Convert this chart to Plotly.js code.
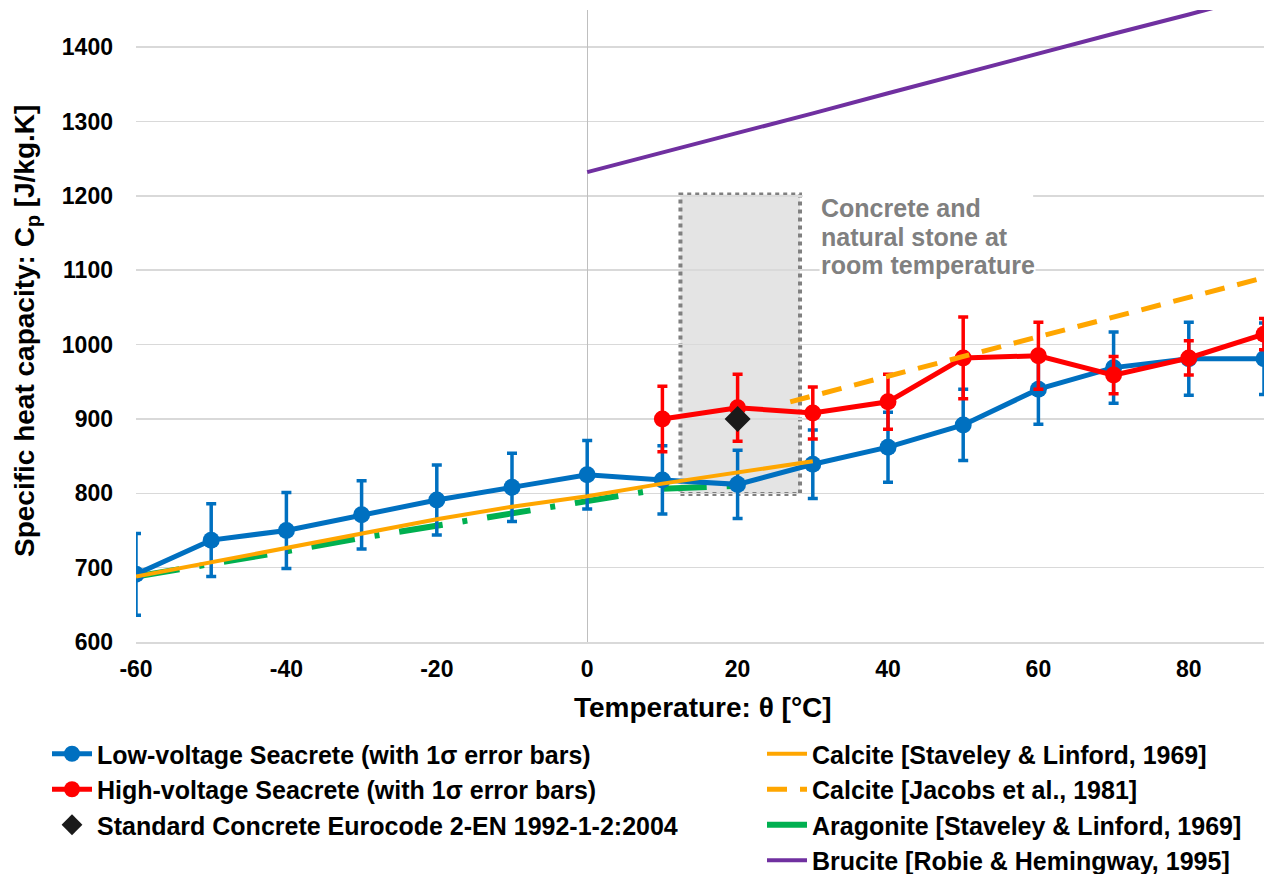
<!DOCTYPE html>
<html>
<head>
<meta charset="utf-8">
<script src="https://cdn.plot.ly/plotly-3.0.1.min.js"></script>
<style>html,body{margin:0;padding:0;background:#fff;}#chart{width:1274px;height:874px;}</style>
</head>
<body>
<div id="chart"></div>
<script>
// ---- data ----
const tempLow = [-60, -50, -40, -30, -20, -10, 0, 10, 20, 30, 40, 50, 60, 70, 80, 90];
const cpLow = [691, 737, 750, 771, 791, 808, 825, 818, 812, 839, 862, 892, 940, 969, 981, 981];
const errLow = [55, 49, 51, 46, 47, 46, 46, 46, 46, 46, 47, 48, 47, 48, 49, 48];

const tempHigh = [10, 20, 30, 40, 50, 60, 70, 80, 90];
const cpHigh = [900, 915, 908, 923, 982, 985, 959, 982, 1014];
const errHigh = [44, 45, 35, 37, 55, 45, 25, 23, 21];

const tempEuro = [20];
const cpEuro = [900];

const tempCalciteSL = [-60, -50, -40, -30, -20, -10, 0, 10, 20, 30];
const cpCalciteSL = [688, 707, 726, 745, 765, 782, 796, 813, 828, 843];

const tempCalciteJ = [27, 30, 40, 50, 60, 70, 80, 90];
const cpCalciteJ = [923, 931, 957, 984, 1011, 1037, 1064, 1090];

const tempAragonite = [-60, -50, -40, -30, -20, -10, 0, 10, 20];
const cpAragonite = [688, 704, 722, 740, 756, 773, 789, 806, 810];

const tempBrucite = [0, 10, 20, 30, 40, 50, 60, 70, 80, 90];
const cpBrucite = [1232, 1258, 1285, 1311, 1338, 1365, 1391, 1418, 1444, 1471];

const xTicks = [-60, -40, -20, 0, 20, 40, 60, 80];
const yTicks = [600, 700, 800, 900, 1000, 1100, 1200, 1300, 1400];

const names = {
  low: 'Low-voltage Seacrete (with 1σ error bars)',
  high: 'High-voltage Seacrete (with 1σ error bars)',
  euro: 'Standard Concrete Eurocode 2-EN 1992-1-2:2004',
  calSL: 'Calcite [Staveley & Linford, 1969]',
  calJ: 'Calcite [Jacobs et al., 1981]',
  arag: 'Aragonite [Staveley & Linford, 1969]',
  bruc: 'Brucite [Robie & Hemingway, 1995]'
};
const boxLines = ['Concrete and', 'natural stone at', 'room temperature'];
const xTitle = 'Temperature: θ [°C]';
const yTitle = 'Specific heat capacity: C<sub>p</sub> [J/kg.K]';

const BLUE = '#0070c0', RED = '#ff0000', ORANGE = '#ffa600', GREEN = '#00b050', PURPLE = '#7030a0';

const traces = [
  {x: tempBrucite, y: cpBrucite, mode: 'lines', name: names.bruc, legend: 'legend2', legendrank: 4,
   line: {color: PURPLE, width: 4}},
  {x: tempAragonite, y: cpAragonite, mode: 'lines', name: names.arag, legend: 'legend2', legendrank: 3,
   line: {color: GREEN, width: 6, dash: '44px,20px,5px,20px'}},
  {x: tempLow, y: cpLow, mode: 'lines+markers', name: names.low, legend: 'legend', legendrank: 1,
   line: {color: BLUE, width: 5}, marker: {color: BLUE, size: 17},
   error_y: {type: 'data', array: errLow, visible: true, color: BLUE, thickness: 3.5, width: 5}},
  {x: tempHigh, y: cpHigh, mode: 'lines+markers', name: names.high, legend: 'legend', legendrank: 2,
   line: {color: RED, width: 5}, marker: {color: RED, size: 17},
   error_y: {type: 'data', array: errHigh, visible: true, color: RED, thickness: 3.5, width: 5}},
  {x: tempCalciteSL, y: cpCalciteSL, mode: 'lines', name: names.calSL, legend: 'legend2', legendrank: 1,
   line: {color: ORANGE, width: 4}},
  {x: tempCalciteJ, y: cpCalciteJ, mode: 'lines', name: names.calJ, legend: 'legend2', legendrank: 2,
   line: {color: ORANGE, width: 5, dash: '20px,13px'}},
  {x: tempEuro, y: cpEuro, mode: 'markers', name: names.euro, legend: 'legend', legendrank: 3,
   marker: {color: '#1a1a1a', size: 20, symbol: 'diamond'}}
];

const FONT = 'Liberation Sans, Arial, sans-serif';
const PL = 136, PR = 1264, PT = 10, PB = 642; // plot area in px (layout margins)
const px2paperX = p => (p - PL) / (PR - PL);
const px2paperY = p => (PB - p) / (PB - PT);

const boxY = [1184, 1145, 1107];
const annotations = boxLines.map((t, i) => ({
  xref: 'x', yref: 'y', x: 30.9, y: boxY[i], xanchor: 'left', yanchor: 'middle', align: 'left',
  text: t, showarrow: false, bgcolor: '#ffffff', borderpad: 0,
  font: {family: FONT, size: 25, weight: 'bold', color: '#808080'}
}));
annotations.push({
  xref: 'paper', yref: 'paper', x: px2paperX(703), y: px2paperY(707), xanchor: 'center', yanchor: 'middle',
  text: xTitle, showarrow: false, font: {family: FONT, size: 28, weight: 'bold', color: '#000'}
});
annotations.push({
  xref: 'paper', yref: 'paper', x: px2paperX(26), y: px2paperY(331), xanchor: 'center', yanchor: 'middle',
  text: yTitle, textangle: -90, showarrow: false, font: {family: FONT, size: 28, weight: 'bold', color: '#000'}
});

const layout = {
  width: 1274, height: 874,
  paper_bgcolor: '#ffffff', plot_bgcolor: '#ffffff',
  margin: {l: PL, r: 1274 - PR, t: PT, b: 874 - PB, autoexpand: false},
  font: {family: FONT, color: '#000000', size: 23, weight: 'bold'},
  xaxis: {
    range: [-60, 90], tickvals: xTicks, ticktext: xTicks.map(String),
    showgrid: false, zeroline: true, zerolinecolor: '#bfbfbf', zerolinewidth: 1,
    showline: true, linecolor: '#d9d9d9', linewidth: 1.5, ticks: '',
    tickfont: {family: FONT, size: 23, weight: 'bold', color: '#000'},
    ticklabelstandoff: 6, automargin: false, fixedrange: true
  },
  yaxis: {
    range: [600, 1450], tickvals: yTicks, ticktext: yTicks.map(String),
    showgrid: true, gridcolor: '#d9d9d9', gridwidth: 1.5, zeroline: false, showline: false, ticks: '',
    tickfont: {family: FONT, size: 23, weight: 'bold', color: '#000'},
    ticklabelstandoff: 22, automargin: false, fixedrange: true
  },
  shapes: [
    {type: 'rect', xref: 'x', yref: 'y', x0: 12.4, x1: 28.3, y0: 799, y1: 1202, layer: 'below',
     fillcolor: '#e4e4e4', line: {color: '#808080', width: 4, dash: '4px,4px'}},
    {type: 'rect', xref: 'x', yref: 'y', x0: 28.65, x1: 59.3, y0: 1150, y1: 1213, layer: 'between',
     fillcolor: '#ffffff', line: {width: 0}},
    {type: 'rect', xref: 'x', yref: 'y', x0: 30.9, x1: 59.3, y0: 1094, y1: 1150, layer: 'between',
     fillcolor: '#ffffff', line: {width: 0}}
  ],
  annotations: annotations,
  legend: {
    xref: 'container', yref: 'container', x: 47 / 1274, y: 1 - 731 / 874, xanchor: 'left', yanchor: 'top',
    orientation: 'v', bgcolor: 'rgba(0,0,0,0)', borderwidth: 0,
    font: {family: FONT, size: 25, weight: 'bold', color: '#000'}, tracegroupgap: 0, itemwidth: 40
  },
  legend2: {
    xref: 'container', yref: 'container', x: 762 / 1274, y: 1 - 731 / 874, xanchor: 'left', yanchor: 'top',
    orientation: 'v', bgcolor: 'rgba(0,0,0,0)', borderwidth: 0,
    font: {family: FONT, size: 25, weight: 'bold', color: '#000'}, tracegroupgap: 0, itemwidth: 40
  },
  showlegend: true
};

Plotly.newPlot('chart', traces, layout, {displayModeBar: false, staticPlot: true});
</script>
</body>
</html>
